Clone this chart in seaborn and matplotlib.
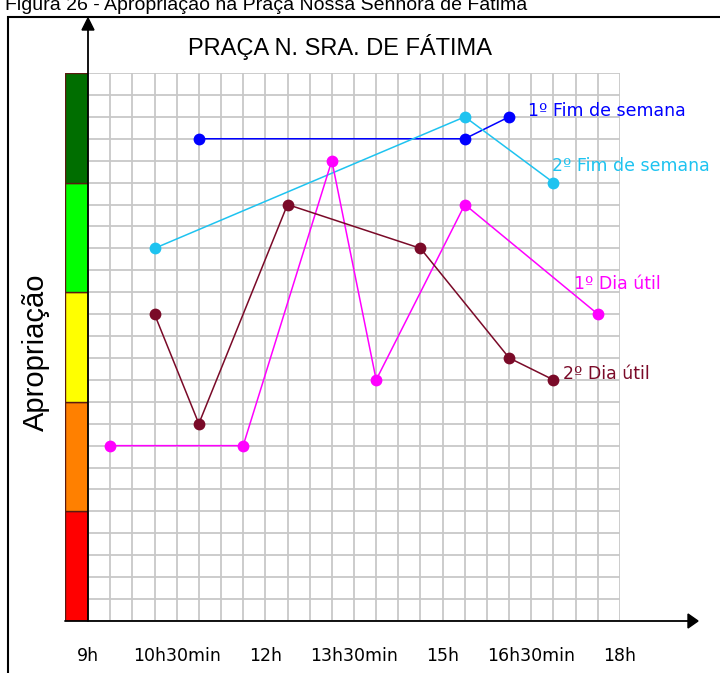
import numpy as np
import pandas as pd
import seaborn as sns
import matplotlib.pyplot as plt
from matplotlib.patches import Rectangle

sns.set_style('white')
plt.rcParams['font.family'] = ['DejaVu Sans']
plt.rcParams['text.color'] = 'black'
plt.rcParams['xtick.color'] = 'black'

# time in hours, appropriation level in grid units (0-25)
fim1_x = [10.875, 15.375, 16.125]
fim1_y = [22, 22, 23]
fim2_x = [10.125, 15.375, 16.875]
fim2_y = [17, 23, 20]
dia1_x = [9.375, 11.625, 13.125, 13.875, 15.375, 17.625]
dia1_y = [8, 8, 21, 11, 19, 14]
dia2_x = [10.125, 10.875, 12.375, 14.625, 16.125, 16.875]
dia2_y = [14, 9, 19, 17, 12, 11]

series_names = ['1º Fim de semana', '2º Fim de semana', '1º Dia útil', '2º Dia útil']
series_colors = ['#0000FF', '#1EC3F0', '#FF00FF', '#7A0A28']
label_offsets = [(19, 6), (-1, 17), (-24, 30), (10, 6)]

xtick_pos = [9, 10.5, 12, 13.5, 15, 16.5, 18]
xtick_labels = ['9h', '10h30min', '12h', '13h30min', '15h', '16h30min', '18h']

band_colors = ['#FF0000', '#FF8000', '#FFFF00', '#00FF00', '#006E00']
band_size = 5

xs = [fim1_x, fim2_x, dia1_x, dia2_x]
ys = [fim1_y, fim2_y, dia1_y, dia2_y]
df = pd.concat([pd.DataFrame({'hora': x, 'nivel': y, 'serie': n})
                for x, y, n in zip(xs, ys, series_names)], ignore_index=True)

W, H = 720, 673
fig = plt.figure(figsize=(7.2, 6.73), dpi=100)
left, right, top, bottom = 88, 620, 73, 621
ax = fig.add_axes([left / W, 1 - bottom / H, (right - left) / W, (bottom - top) / H])

sns.lineplot(data=df, x='hora', y='nivel', hue='serie', palette=dict(zip(series_names, series_colors)),
             sort=False, estimator=None, marker='o', markersize=8.5, markeredgewidth=0,
             linewidth=1.1, legend=False, ax=ax, zorder=3)

ax.set_xlim(9, 18)
ax.set_ylim(0, 25)
ax.set_xticks(np.arange(9, 18.01, 0.375), minor=True)
ax.set_yticks(np.arange(0, 25.01, 1))
ax.set_xticks(xtick_pos)
ax.set_xticklabels(xtick_labels, fontsize=12.5)
ax.set_yticklabels([])
ax.grid(True, which='both', color='#C8C8C8', linewidth=1.3)
ax.set_axisbelow(True)
ax.tick_params(axis='x', which='major', length=17, width=1, color='#222222', pad=2)
ax.tick_params(axis='x', which='minor', length=0)
ax.tick_params(axis='y', length=0)
ax.xaxis.get_major_ticks()[-1].tick1line.set_visible(False)
for s in ax.spines.values():
    s.set_visible(False)
ax.set_xlabel('')
ax.set_ylabel('')

for n, c, off, x, y in zip(series_names, series_colors, label_offsets, xs, ys):
    ax.annotate(n, xy=(x[-1], y[-1]), xytext=off, textcoords='offset pixels',
                color=c, fontsize=12.5, va='center', ha='left', annotation_clip=False)

# colour band on the left
cax = fig.add_axes([65 / W, 1 - bottom / H, 23 / W, (bottom - top) / H])
cax.bar(np.zeros(len(band_colors)), [band_size] * len(band_colors),
        bottom=np.arange(len(band_colors)) * band_size, width=1,
        color=band_colors, edgecolor='#5A1A10', linewidth=1)
cax.set_xlim(-0.5, 0.5)
cax.set_ylim(0, 25)
cax.axis('off')

# axis arrows
fig.add_artist(plt.Line2D([65 / W, 688 / W], [1 - bottom / H] * 2, color='black', lw=1.3))
fig.add_artist(plt.Line2D([left / W] * 2, [1 - bottom / H, 1 - 30 / H], color='black', lw=1.3))
fig.patches.append(plt.Polygon([[688 / W, 1 - 614 / H], [698 / W, 1 - bottom / H], [688 / W, 1 - 628 / H]],
                               closed=True, color='black', transform=fig.transFigure))
fig.patches.append(plt.Polygon([[82 / W, 1 - 30 / H], [left / W, 1 - 18 / H], [94 / W, 1 - 30 / H]],
                               closed=True, color='black', transform=fig.transFigure))

# frame and texts
fig.patches.append(Rectangle((8 / W, -0.01), 1.0, 1 - 17 / H + 0.01, fill=False,
                             edgecolor='black', lw=1.5, transform=fig.transFigure))
fig.text(5 / W, 1 - 10 / H, 'Figura 26 - Apropriação na Praça Nossa Senhora de Fátima',
         fontsize=14, family=['Liberation Sans', 'DejaVu Sans'], va='baseline', ha='left')
fig.text(340 / W, 1 - 47 / H, 'PRAÇA N. SRA. DE FÁTIMA', fontsize=17,
         family=['Liberation Sans', 'DejaVu Sans'], ha='center', va='center')
fig.text(36 / W, 1 - 352 / H, 'Apropriação', fontsize=21, rotation=90,
         family=['Liberation Sans', 'DejaVu Sans'], ha='center', va='center')

fig.savefig('out.png', dpi=100)
